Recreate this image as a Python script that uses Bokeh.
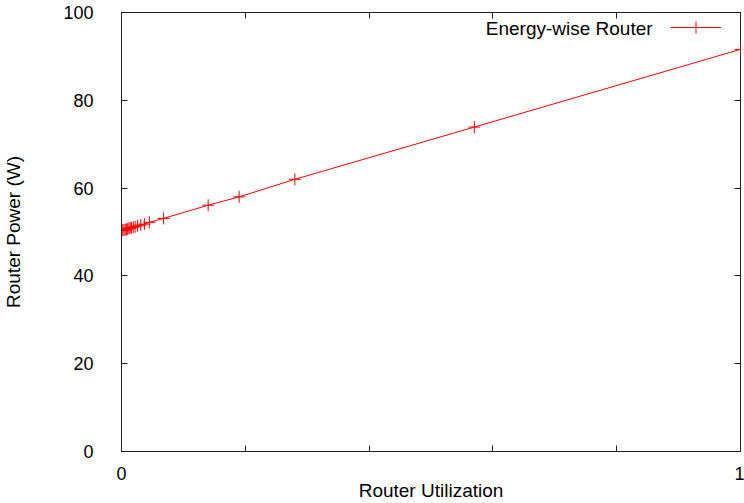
from bokeh.plotting import figure
from bokeh.models import (Range1d, FixedTicker, LinearAxis, Legend, LegendItem, Label)
from bokeh.embed import file_html
from bokeh.resources import INLINE

# Router utilization (fraction) and measured router power (W)
utilization = [0.0, 0.002, 0.004, 0.006, 0.008, 0.010, 0.012, 0.014, 0.016,
               0.019, 0.022, 0.026, 0.031, 0.037, 0.045, 0.068, 0.140,
               0.190, 0.280, 0.570, 1.0]
power = [50.3, 50.4, 50.5, 50.5, 50.6, 50.7, 50.8, 50.9, 51.0,
         51.1, 51.2, 51.4, 51.6, 51.8, 52.2, 53.1, 56.1,
         58.0, 62.0, 73.9, 91.6]

series_name = "Energy-wise Router"
x_ticks = [0, 0.2, 0.4, 0.6, 0.8, 1]
x_tick_labels = {0: "0", 0.2: "", 0.4: "", 0.6: "", 0.8: "", 1: "1"}
y_ticks = [0, 20, 40, 60, 80, 100]

FONT = "Liberation Sans"
FS = "18px"
FS_TITLE = "19px"

p = figure(width=744, height=503, output_backend="svg", toolbar_location=None,
           x_range=Range1d(0, 1), y_range=Range1d(0, 100),
           min_border_left=120, min_border_right=4,
           min_border_top=12, min_border_bottom=51)
p.grid.visible = False
p.background_fill_color = "white"
p.border_fill_color = "white"
p.outline_line_color = "#222222"
p.outline_line_width = 1

xa = p.xaxis[0]
xa.ticker = FixedTicker(ticks=x_ticks)
xa.major_label_overrides = x_tick_labels
xa.axis_label = "Router Utilization"
yb = p.yaxis[0]
yb.ticker = FixedTicker(ticks=y_ticks)
yb.axis_label = "Router Power (W)"

for ax in (xa, yb):
    ax.axis_line_color = "#222222"
    ax.major_tick_in = 6
    ax.major_tick_out = 0
    ax.minor_tick_line_color = None
    ax.major_tick_line_color = "#222222"
    ax.major_label_text_font = FONT
    ax.major_label_text_font_size = FS
    ax.major_label_text_color = "black"
    ax.axis_label_text_font = FONT
    ax.axis_label_text_font_size = FS_TITLE
    ax.axis_label_text_font_style = "normal"
    ax.axis_label_text_color = "black"

xa.major_label_standoff = 15
xa.axis_label_standoff = -3
yb.major_label_standoff = 28
yb.axis_label_standoff = 36

# mirrored ticks on the top and right edges (no labels)
for loc, ticks in (("above", x_ticks), ("right", y_ticks)):
    ax = LinearAxis(ticker=FixedTicker(ticks=ticks))
    ax.axis_line_color = None
    ax.major_tick_in = 6
    ax.major_tick_out = 0
    ax.minor_tick_line_color = None
    ax.major_tick_line_color = "#222222"
    ax.major_label_overrides = {t: "" for t in ticks}
    ax.major_label_text_font_size = "1px"
    ax.major_label_text_color = None
    ax.major_label_standoff = 0
    p.add_layout(ax, loc)

line = p.line(utilization, power, line_color="#ff0000", line_width=1)
pts = p.scatter(utilization, power, marker="cross", size=12,
                line_color="#ff0000", line_width=1)

# key: text on the left, sample on the right
p.add_layout(Label(x=0.858, y=96.4, text=series_name, text_align="right",
                   text_baseline="middle", text_font=FONT,
                   text_font_size=FS_TITLE, text_color="black"))
legend = Legend(items=[LegendItem(label=" ", renderers=[line, pts])],
                location=(549, 409), border_line_color=None,
                background_fill_alpha=0, padding=0, margin=0, spacing=0,
                glyph_width=51, glyph_height=30, label_height=30,
                label_standoff=0, label_text_font_size="1px",
                label_text_color=None)
p.add_layout(legend, "center")

open("out.html", "w").write(file_html(p, INLINE))
